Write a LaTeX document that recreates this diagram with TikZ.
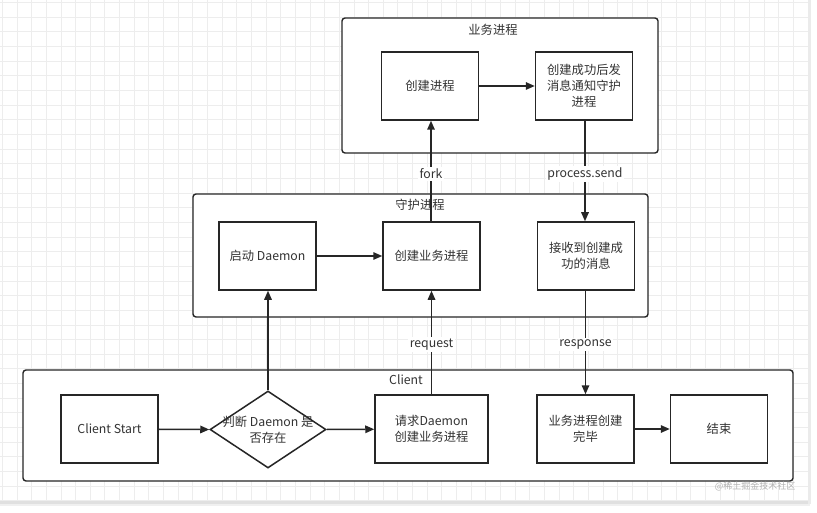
\documentclass[tikz,border=0pt]{standalone}
\usepackage{fontspec}
\setmainfont{Noto Sans CJK SC}
\usetikzlibrary{arrows.meta,shapes.geometric}
\begin{document}
\begin{tikzpicture}[x=1pt,y=-1pt,
  box/.style={draw=black!85, line width=1.5pt, fill=white, minimum width=97pt, minimum height=68pt, inner sep=0pt, align=center, font=\fontsize{12.3}{16}\selectfont, text=black!80},
  group/.style={draw=black!85, line width=1.4pt, rounded corners=3pt, fill=white},
  arr/.style={draw=black!85, line width=1.5pt, -{Triangle[length=9pt,width=7.5pt]}},
  lbl/.style={fill=white, inner sep=1.5pt, font=\fontsize{12.3}{14}\selectfont, text=black!80},
  ttl/.style={font=\fontsize{12.3}{14}\selectfont, text=black!80}
]
\useasboundingbox (0,0) rectangle (817,513);
% background grid
\fill[white] (0,0) rectangle (817,513);
\foreach \i in {0,...,55} {\draw[black!7, line width=0.8pt] (2.3+14.65*\i,0) -- (2.3+14.65*\i,501);}
\foreach \j in {0,...,34} {\draw[black!7, line width=0.8pt] (0,2.6+14.65*\j) -- (810,2.6+14.65*\j);}
% shadow of canvas
\fill[black!12] (0,501) rectangle (810,504);
\fill[black!6] (0,504) rectangle (810,506);
\fill[black!8] (808,0) rectangle (811,504);

% containers
\draw[group] (342,18) rectangle (658,153);
\node[ttl] (t1) at (493,30) {业务进程};
\draw[group] (193,194) rectangle (648,317);
\node[ttl] (t2) at (420,205) {守护进程};
\draw[group] (23,370) rectangle (793,481);
\node[ttl] (t3) at (406,380) {Client};

% nodes
\node[box] (cj) at (430,86) {创建进程};
\node[box] (notify) at (584,86) {创建成功后发\\消息通知守护\\进程};
\node[box] (start) at (267.5,256) {启动 Daemon};
\node[box] (cb) at (431.5,256) {创建业务进程};
\node[box] (recv) at (586,256) {接收到创建成\\功的消息};
\node[box] (cs) at (109.5,429) {Client Start};
\node[diamond, draw=black!85, line width=1.5pt, fill=white, minimum width=116pt, minimum height=77pt, inner sep=0pt] (dec) at (268,429.5) {};
\node[align=center, font=\fontsize{12.3}{16}\selectfont, text=black!80] (dect) at (dec) {判断 Daemon 是\\否存在};
\node[box, minimum width=113pt] (req) at (431.5,429) {请求Daemon\\创建业务进程};
\node[box] (done) at (585.5,429) {业务进程创建\\完毕};
\node[box] (end) at (719,429) {结束};

% connectors
\draw[arr] (cj) -- (notify);
\draw[arr] (cb.north -| 431,0) -- node[lbl, pos=0.47] {fork} (cj.south -| 431,0);
\draw[arr] (notify.south -| 585,0) -- node[lbl, pos=0.53] {process.send} (recv.north -| 585,0);
\draw[arr] (start) -- (cb);
\draw[arr] (dec.north) -- (start.south -| dec.north);
\draw[arr] (req.north) -- node[lbl, pos=0.48] {request} (cb.south -| req.north);
\draw[arr] (recv.south -| 585.5,0) -- node[lbl, pos=0.52] {response} (done.north);
\draw[arr] (cs) -- (dec.west);
\draw[arr] (dec.east) -- (req);
\draw[arr] (done) -- (end);

% watermark
\node[font=\fontsize{9}{10}\selectfont, text=black!30] (wm) at (755,486) {@稀土掘金技术社区};
\end{tikzpicture}
\end{document}
